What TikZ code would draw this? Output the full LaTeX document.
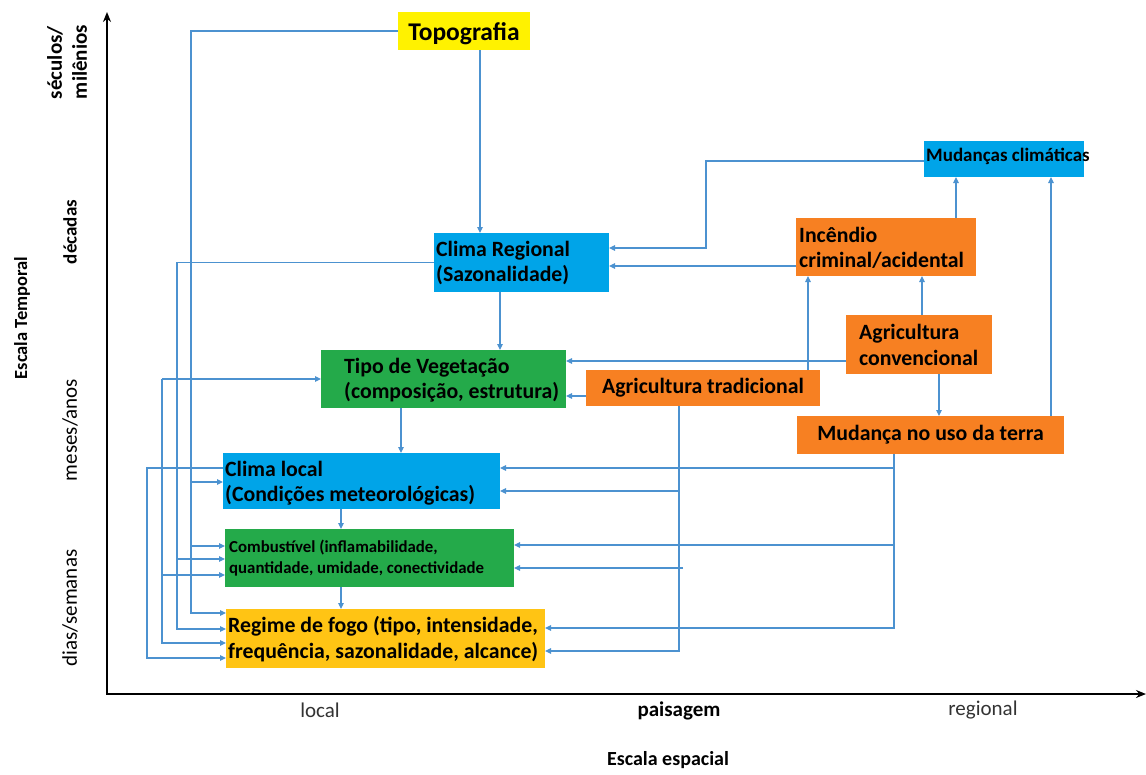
\documentclass[tikz,border=0pt]{standalone}
\usepackage{fontspec}
\setmainfont{Carlito}
\usetikzlibrary{arrows.meta}
\definecolor{cblue}{RGB}{0,164,232}
\definecolor{cgreen}{RGB}{36,170,74}
\definecolor{corange}{RGB}{247,128,34}
\definecolor{cyel}{RGB}{255,242,0}
\definecolor{cgold}{RGB}{255,196,20}
\definecolor{cline}{RGB}{76,146,208}
\begin{document}
\begin{tikzpicture}[x=1pt,y=-1pt,
  box/.style={rectangle, inner sep=0pt, outer sep=0pt, draw=none},
  bt/.style={font=\fontsize{21.8}{25.5}\selectfont\bfseries, inner sep=0pt, align=left, anchor=west},
  ct/.style={font=\fontsize{21.8}{25.5}\selectfont\bfseries},
  ln/.style={draw=cline, line width=1.2pt},
  arr/.style={ln, -{Triangle[length=6pt,width=5.5pt]}},
  axis/.style={line width=2pt, {Stealth[length=10pt,width=8pt]}-{Stealth[length=10pt,width=8pt]}},
  lab/.style={font=\fontsize{21}{25}\selectfont}
]
\useasboundingbox (0,0) rectangle (1146,774);

% axes
\coordinate (Ytop) at (107,12);
\coordinate (O) at (107,694);
\coordinate (Xend) at (1146,694);
\draw[axis] (Ytop) -- (O) -- (Xend);

% boxes
\node[box, fill=cyel, minimum width=132pt, minimum height=38pt] (tp) at (464,31) {};
\node[font=\fontsize{25.5}{30}\selectfont\bfseries, inner sep=0pt] (tpt) at (464,34) {Topografia};

\node[box, fill=cblue, minimum width=175pt, minimum height=59pt] (cr) at (521.5,262.5) {};
\node[bt] (crt) at (436,263) {Clima Regional\\(Sazonalidade)};

\node[box, fill=cblue, minimum width=160pt, minimum height=36pt] (mc) at (1004,159) {};
\node[bt, font=\fontsize{19}{23}\selectfont\bfseries] (mct) at (926,156) {Mudanças climáticas};

\node[box, fill=corange, minimum width=180pt, minimum height=58pt] (inc) at (886,247) {};
\node[bt] (inct) at (799,248) {Incêndio\\criminal/acidental};

\node[box, fill=corange, minimum width=146pt, minimum height=59pt] (ac) at (919,344.5) {};
\node[bt] (act) at (859,345) {Agricultura\\convencional};

\node[box, fill=cgreen, minimum width=245pt, minimum height=58pt] (tv) at (443.5,379) {};
\node[bt] (tvt) at (344,380) {Tipo de Vegetação\\(composição, estrutura)};

\node[box, fill=corange, minimum width=234pt, minimum height=36pt, ct] (at) at (703,388) {Agricultura tradicional};

\node[box, fill=corange, minimum width=267pt, minimum height=38pt, ct] (mu) at (930.5,435) {Mudança no uso da terra};

\node[box, fill=cblue, minimum width=277pt, minimum height=56pt] (cl) at (361.5,481) {};
\node[bt] (clt) at (225,483) {Clima local\\(Condições meteorológicas)};

\node[box, fill=cgreen, minimum width=289pt, minimum height=58pt] (cb) at (369.5,558) {};
\node[bt, font=\fontsize{16.8}{20.5}\selectfont\bfseries] (cbt) at (229,558) {Combustível (inflamabilidade,\\quantidade, umidade, conectividade};

\node[box, fill=cgold, minimum width=319pt, minimum height=59pt] (rf) at (385.5,638.5) {};
\node[bt] (rft) at (228,639) {Regime de fogo (tipo, intensidade,\\frequência, sazonalidade, alcance)};

% vertical chain
\draw[arr] (tp.south -| 480,0) -- (cr.north -| 480,0);
\draw[arr] (cr.south -| 500,0) -- (tv.north -| 500,0);
\draw[arr] (tv.south -| 401,0) -- (cl.north -| 401,0);
\draw[arr] (cl.south -| 341,0) -- (cb.north -| 341,0);
\draw[arr] (cb.south -| 341,0) -- (rf.north -| 341,0);

% left lanes
\draw[arr] (tp.west) -- (191,31) -- (191,613) -- (rf.west |- 0,613);
\draw[arr] (191,482) -- (cl.west |- 0,482);
\draw[arr] (191,546) -- (cb.west |- 0,546);

\draw[arr] (cr.west) -- (177,262.5) -- (177,629) -- (rf.west |- 0,629);
\draw[arr] (177,559) -- (cb.west |- 0,559);

\draw[arr] (162,379) -- (tv.west);
\draw[arr] (162,379) -- (162,643) -- (rf.west |- 0,643);
\draw[arr] (162,575) -- (cb.west |- 0,575);

\draw[arr] (cl.west |- 0,468) -- (147,468) -- (147,658) -- (rf.west |- 0,658);

% right side
\draw[arr] (mc.west |- 0,161) -- (706,161) -- (706,248) -- (cr.east |- 0,248);
\draw[arr] (inc.west |- 0,266) -- (cr.east |- 0,266);
\draw[arr] (inc.north -| 956,0) -- (mc.south -| 956,0);
\draw[arr] (ac.north -| 922,0) -- (inc.south -| 922,0);
\draw[arr] (at.north -| 808,0) -- (inc.south -| 808,0);
\draw[arr] (ac.west |- 0,361) -- (tv.east |- 0,361);
\draw[arr] (at.west |- 0,396) -- (tv.east |- 0,396);
\draw[arr] (ac.south -| 939,0) -- (mu.north -| 939,0);
\draw[arr] (mu.north -| 1051,0) -- (mc.south -| 1051,0);

\draw[arr] (at.south -| 679,0) -- (679,651) -- (rf.east |- 0,651);
\draw[arr] (679,491) -- (cl.east |- 0,491);
\draw[arr] (683,568) -- (cb.east |- 0,568);

\draw[arr] (mu.south -| 894,0) -- (894,628) -- (rf.east |- 0,628);
\draw[arr] (894,468) -- (cl.east |- 0,468);
\draw[arr] (894,545) -- (cb.east |- 0,545);

% axis labels
\node[rotate=90, font=\fontsize{18.5}{22}\selectfont\bfseries] (ylab) at (22,318) {Escala Temporal};
\node[rotate=90, align=left, font=\fontsize{21}{25}\selectfont\bfseries] (t1) at (67,62) {séculos/\\milênios};
\node[rotate=90, font=\fontsize{19}{23}\selectfont\bfseries] (t2) at (70,232) {décadas};
\node[rotate=90, lab] (t3) at (70,430) {meses/anos};
\node[rotate=90, lab] (t4) at (70,608) {dias/semanas};

\node[lab, text=black!80] (x1) at (320,710) {local};
\node[lab, font=\fontsize{21}{25}\selectfont\bfseries] (x2) at (679,711) {paisagem};
\node[lab, text=black!80] (x3) at (983,710) {regional};
\node[font=\fontsize{20}{24}\selectfont\bfseries] (xlab) at (668,760) {Escala espacial};
\end{tikzpicture}
\end{document}
